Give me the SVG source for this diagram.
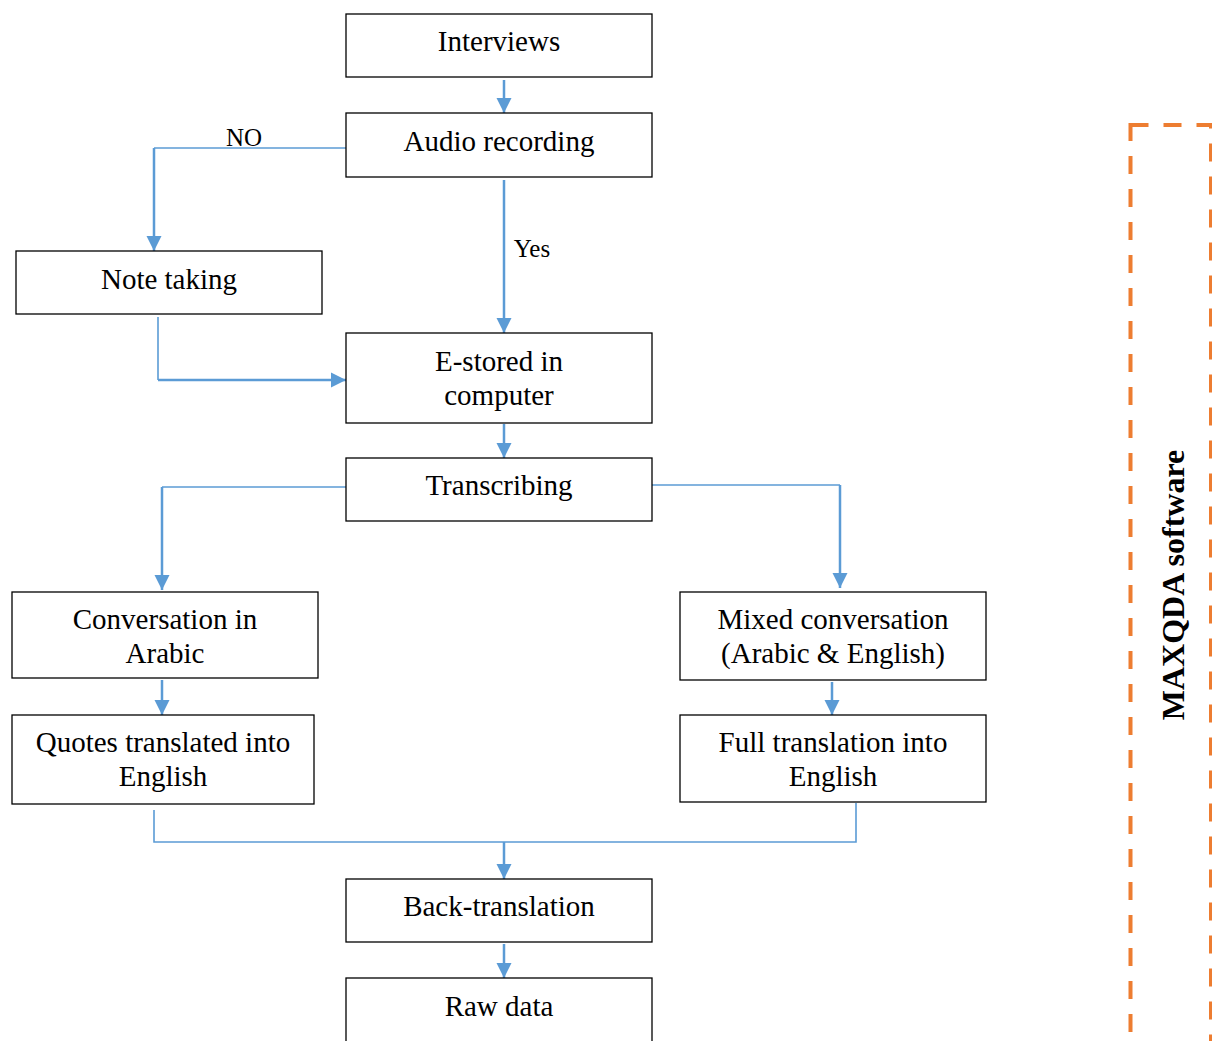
<svg xmlns="http://www.w3.org/2000/svg" width="1212" height="1041" viewBox="0 0 1212 1041">
<style>
.box{fill:#fff;stroke:#000;stroke-width:1.3}
.t{font-family:"Liberation Serif","Times New Roman",serif;font-size:29px;fill:#000;text-anchor:middle}
.lbl{font-family:"Liberation Serif","Times New Roman",serif;font-size:25px;fill:#000;text-anchor:middle}
.c{fill:none;stroke:#5B9BD5;stroke-width:2.5}
.thin{fill:none;stroke:#5B9BD5;stroke-width:1.6}
.arr{marker-end:url(#ah)}
</style>
<defs>
<marker id="ah" markerUnits="userSpaceOnUse" markerWidth="16" markerHeight="16" refX="15" refY="8" orient="auto">
<path d="M0,0.5 L15,8 L0,15.5 z" fill="#5B9BD5"/>
</marker>
</defs>
<rect width="1212" height="1041" fill="#fff"/>
<g id="connectors">
<path class="c arr" d="M504,80 V113"/>
<path class="thin" d="M346,148 H154"/>
<path class="c arr" d="M154,148 V251"/>
<path class="c arr" d="M504,180 V333"/>
<path class="thin" d="M158,317 V380"/>
<path class="c arr" d="M158,380 H346"/>
<path class="c arr" d="M504,424 V458"/>
<path class="thin" d="M346,487 H162"/>
<path class="c arr" d="M162,487 V590"/>
<path class="thin" d="M652,485 H840"/>
<path class="c arr" d="M840,485 V588"/>
<path class="c arr" d="M162,680 V715"/>
<path class="c arr" d="M832,682 V715"/>
<path class="thin" d="M154,810 V842 H856 V803"/>
<path class="c arr" d="M504,842 V879"/>
<path class="c arr" d="M504,944 V978"/>
<text class="lbl" x="244" y="146">NO</text>
<text class="lbl" x="532" y="257">Yes</text>
</g>
<g id="interviews"><rect class="box" x="346" y="14" width="306" height="63"/><text class="t" x="499" y="51">Interviews</text></g>
<g id="audio"><rect class="box" x="346" y="113" width="306" height="64"/><text class="t" x="499" y="151">Audio recording</text></g>
<g id="note"><rect class="box" x="16" y="251" width="306" height="63"/><text class="t" x="169" y="289">Note taking</text></g>
<g id="estored"><rect class="box" x="346" y="333" width="306" height="90"/><text class="t" x="499" y="371">E-stored in</text><text class="t" x="499" y="405">computer</text></g>
<g id="transcribing"><rect class="box" x="346" y="458" width="306" height="63"/><text class="t" x="499" y="495">Transcribing</text></g>
<g id="conv-arabic"><rect class="box" x="12" y="592" width="306" height="86"/><text class="t" x="165" y="629">Conversation in</text><text class="t" x="165" y="663">Arabic</text></g>
<g id="mixed"><rect class="box" x="680" y="592" width="306" height="88"/><text class="t" x="833" y="629">Mixed conversation</text><text class="t" x="833" y="663">(Arabic &amp; English)</text></g>
<g id="quotes"><rect class="box" x="12" y="715" width="302" height="89"/><text class="t" x="163" y="752">Quotes translated into</text><text class="t" x="163" y="786">English</text></g>
<g id="full"><rect class="box" x="680" y="715" width="306" height="87"/><text class="t" x="833" y="752">Full translation into</text><text class="t" x="833" y="786">English</text></g>
<g id="back"><rect class="box" x="346" y="879" width="306" height="63"/><text class="t" x="499" y="916">Back-translation</text></g>
<g id="raw"><rect class="box" x="346" y="978" width="306" height="80"/><text class="t" x="499" y="1016">Raw data</text></g>
<g id="maxqda">
<rect x="1130.5" y="125" width="80.5" height="1000" fill="none" stroke="#ED7D31" stroke-width="4" stroke-dasharray="18 15"/>
<text transform="translate(1184,585) rotate(-90)" font-family="'Liberation Serif','Times New Roman',serif" font-size="32" font-weight="bold" text-anchor="middle" fill="#000">MAXQDA software</text>
</g>
</svg>
